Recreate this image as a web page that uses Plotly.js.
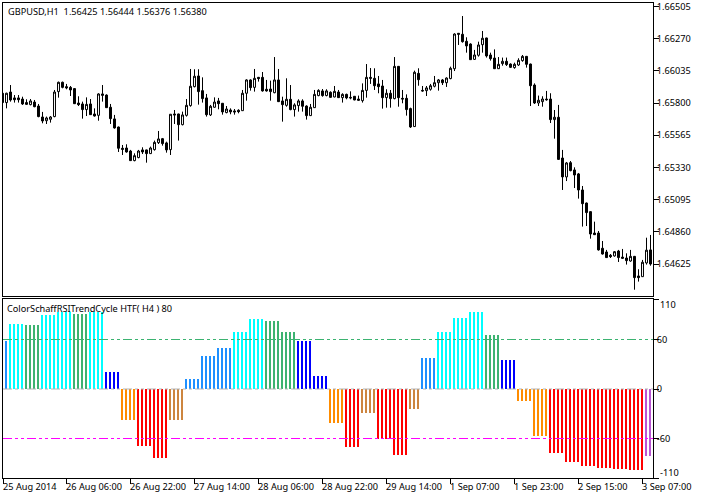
<!DOCTYPE html>
<html>
<head>
<meta charset="utf-8">
<script src="https://cdn.plot.ly/plotly-3.0.1.min.js"></script>
<style>
html, body { margin: 0; padding: 0; background: #fff; }
#chart_container { width: 705px; height: 498px; }
</style>
</head>
<body>
<div id="chart_container"></div>
<script>
// GBPUSD H1 candles (first one is cut by the left edge)
var candleOpen = [
	1.65871,1.65803,1.65880,1.65837,1.65837,1.65829,1.65803,1.65788,1.65807,1.65778,
	1.65698,1.65671,1.65681,1.65701,1.65883,1.65951,1.65919,1.65914,1.65905,1.65800,
	1.65793,1.65752,1.65793,1.65720,1.65710,1.65866,1.65858,1.65769,1.65684,1.65625,
	1.65470,1.65472,1.65450,1.65380,1.65402,1.65458,1.65458,1.65431,1.65460,1.65511,
	1.65540,1.65509,1.65460,1.65720,1.65720,1.65642,1.65710,1.65781,1.65919,1.65997,
	1.65890,1.65837,1.65713,1.65769,1.65815,1.65798,1.65730,1.65749,1.65742,1.65747,
	1.65744,1.65871,1.65968,1.65914,1.65987,1.65987,1.65900,1.65902,1.65875,1.65968,
	1.65815,1.65783,1.65827,1.65752,1.65781,1.65815,1.65778,1.65708,1.65766,1.65854,
	1.65888,1.65854,1.65878,1.65844,1.65880,1.65839,1.65863,1.65841,1.65849,1.65829,
	1.65817,1.65892,1.65987,1.65980,1.65939,1.65924,1.65839,1.65871,1.65832,1.66067,
	1.65834,1.65834,1.65759,1.65628,1.66016,1.65892,1.65890,1.65900,1.65922,1.65948,
	1.65968,1.65948,1.65978,1.66050,1.66308,1.66301,1.66250,1.66230,1.66118,1.66148,
	1.66225,1.66274,1.66150,1.66128,1.66050,1.66087,1.66104,1.66084,1.66058,1.66077,
	1.66109,1.66140,1.66084,1.65931,1.65800,1.65810,1.65829,1.65829,1.65679,1.65696,
	1.65399,1.65261,1.65365,1.65312,1.65283,1.65166,1.65071,1.65008,1.64852,1.64852,
	1.64741,1.64714,1.64690,1.64685,1.64721,1.64677,1.64670,1.64648,1.64682,1.64539,
	1.64534,1.64634,1.64729
];
var candleHigh = [
	1.65875,1.65875,1.65931,1.65858,1.65858,1.65846,1.65827,1.65829,1.65822,1.65793,
	1.65735,1.65701,1.65705,1.65895,1.65956,1.65956,1.65939,1.65924,1.65907,1.65849,
	1.65810,1.65841,1.65829,1.65761,1.65871,1.65931,1.65863,1.65793,1.65713,1.65628,
	1.65494,1.65499,1.65458,1.65433,1.65458,1.65477,1.65460,1.65482,1.65526,1.65596,
	1.65545,1.65518,1.65720,1.65749,1.65722,1.65737,1.65829,1.66048,1.66046,1.66046,
	1.65987,1.65866,1.65786,1.65841,1.65837,1.65800,1.65778,1.65761,1.65756,1.65754,
	1.65895,1.65973,1.65973,1.66048,1.65990,1.66026,1.65968,1.65963,1.66135,1.66048,
	1.65846,1.65980,1.65931,1.65798,1.65827,1.65827,1.65783,1.65793,1.65895,1.65900,
	1.65902,1.65900,1.65885,1.65924,1.65895,1.65871,1.65868,1.65885,1.65851,1.65854,
	1.65943,1.66084,1.66055,1.66053,1.65997,1.65968,1.65900,1.65895,1.66135,1.66070,
	1.65895,1.65863,1.65766,1.66036,1.66053,1.65924,1.65924,1.65939,1.65997,1.65975,
	1.65975,1.65987,1.66065,1.66308,1.66308,1.66434,1.66279,1.66235,1.66187,1.66247,
	1.66325,1.66276,1.66167,1.66191,1.66135,1.66131,1.66131,1.66089,1.66094,1.66126,
	1.66150,1.66143,1.66087,1.65943,1.65854,1.65849,1.65888,1.65871,1.65749,1.65786,
	1.65458,1.65370,1.65377,1.65331,1.65290,1.65195,1.65074,1.65010,1.64935,1.64867,
	1.64794,1.64729,1.64699,1.64721,1.64729,1.64736,1.64704,1.64729,1.64685,1.64588,
	1.64656,1.64818,1.64838
];
var candleLow = [
	1.65803,1.65761,1.65810,1.65803,1.65803,1.65786,1.65786,1.65783,1.65769,1.65696,
	1.65652,1.65647,1.65657,1.65696,1.65839,1.65907,1.65900,1.65851,1.65793,1.65778,
	1.65686,1.65705,1.65713,1.65701,1.65671,1.65810,1.65764,1.65647,1.65613,1.65443,
	1.65421,1.65438,1.65377,1.65375,1.65397,1.65428,1.65365,1.65428,1.65453,1.65501,
	1.65489,1.65438,1.65421,1.65647,1.65526,1.65637,1.65701,1.65773,1.65914,1.65788,
	1.65803,1.65701,1.65705,1.65766,1.65754,1.65715,1.65725,1.65718,1.65715,1.65725,
	1.65742,1.65817,1.65890,1.65883,1.65956,1.65883,1.65883,1.65817,1.65871,1.65807,
	1.65664,1.65773,1.65747,1.65701,1.65737,1.65737,1.65679,1.65705,1.65764,1.65849,
	1.65846,1.65849,1.65839,1.65841,1.65837,1.65803,1.65827,1.65827,1.65820,1.65817,
	1.65803,1.65839,1.65939,1.65895,1.65871,1.65759,1.65766,1.65766,1.65827,1.65773,
	1.65798,1.65708,1.65618,1.65625,1.65926,1.65883,1.65851,1.65890,1.65914,1.65890,
	1.65931,1.65917,1.65973,1.66033,1.66223,1.66240,1.66167,1.66114,1.66114,1.66138,
	1.66167,1.66131,1.66109,1.66048,1.66048,1.66072,1.66070,1.66055,1.66050,1.66070,
	1.66101,1.66058,1.65778,1.65793,1.65778,1.65773,1.65817,1.65654,1.65540,1.65385,
	1.65166,1.65231,1.65302,1.65180,1.65103,1.64899,1.64903,1.64811,1.64838,1.64724,
	1.64695,1.64670,1.64670,1.64680,1.64641,1.64663,1.64622,1.64643,1.64439,1.64498,
	1.64532,1.64622,1.64614
];
var candleClose = [
	1.65803,1.65871,1.65822,1.65824,1.65824,1.65793,1.65790,1.65815,1.65773,1.65701,
	1.65669,1.65691,1.65698,1.65880,1.65951,1.65914,1.65910,1.65895,1.65795,1.65788,
	1.65752,1.65790,1.65715,1.65705,1.65866,1.65856,1.65766,1.65686,1.65618,1.65470,
	1.65462,1.65443,1.65380,1.65416,1.65450,1.65443,1.65431,1.65472,1.65513,1.65538,
	1.65504,1.65458,1.65718,1.65713,1.65642,1.65713,1.65783,1.65922,1.65995,1.65883,
	1.65832,1.65715,1.65776,1.65807,1.65795,1.65735,1.65756,1.65735,1.65735,1.65737,
	1.65871,1.65968,1.65912,1.65980,1.65978,1.65888,1.65888,1.65883,1.65968,1.65810,
	1.65788,1.65827,1.65752,1.65786,1.65815,1.65776,1.65708,1.65769,1.65863,1.65892,
	1.65854,1.65888,1.65841,1.65885,1.65839,1.65863,1.65837,1.65837,1.65822,1.65820,
	1.65892,1.65987,1.65980,1.65926,1.65919,1.65839,1.65871,1.65832,1.66067,1.65839,
	1.65829,1.65752,1.65625,1.66024,1.65970,1.65888,1.65910,1.65926,1.65948,1.65968,
	1.65948,1.65982,1.66053,1.66303,1.66301,1.66247,1.66216,1.66116,1.66150,1.66223,
	1.66272,1.66143,1.66123,1.66050,1.66082,1.66104,1.66080,1.66060,1.66082,1.66111,
	1.66140,1.66082,1.65926,1.65800,1.65820,1.65829,1.65824,1.65679,1.65696,1.65389,
	1.65261,1.65363,1.65307,1.65275,1.65166,1.65066,1.65001,1.64845,1.64840,1.64729,
	1.64699,1.64673,1.64680,1.64716,1.64673,1.64668,1.64651,1.64682,1.64527,1.64527,
	1.64639,1.64727,1.64626
];

// ColorSchaffRSITrendCycle HTF histogram, starts at the second candle
var histValue = [
	57.6,78.2,78.2,78.2,78.2,77,77,77,77,89.2,
	89.2,89.2,89.2,92.8,92.8,92.8,92.8,90.4,90.4,90.4,
	90.4,92.8,92.8,92.8,92.8,21,21,21,21,-38.1,
	-38.1,-38.1,-38.1,-68.9,-68.9,-68.9,-68.9,-83.5,-83.5,-83.5,
	-83.5,-37.3,-37.3,-37.3,-37.3,12.6,12.6,12.6,12.6,40.5,
	40.5,40.5,40.5,50.3,50.3,50.3,50.3,69.7,69.7,69.7,
	69.7,84.3,84.3,84.3,84.3,81.9,81.9,81.9,81.9,69.7,
	69.7,69.7,69.7,57.6,57.6,57.6,57.6,16.2,16.2,16.2,
	16.2,-40.9,-40.9,-40.9,-40.9,-70.1,-70.1,-70.1,-70.1,-28.8,
	-28.8,-28.8,-28.8,-60,-60,-60,-60,-79.9,-79.9,-79.9,
	-79.9,-23.9,-23.9,-23.9,38.1,38.1,38.1,38.1,69.7,69.7,
	69.7,69.7,85.5,85.5,85.5,85.5,92.8,92.8,92.8,92.8,
	64.9,64.9,64.9,64.9,35.7,35.7,35.7,35.7,-14.2,-14.2,
	-14.2,-14.2,-56.8,-56.8,-56.8,-56.8,-77.4,-77.4,-77.4,-77.4,
	-88.4,-88.4,-88.4,-88.4,-93.2,-93.2,-93.2,-93.2,-95.7,-95.7,
	-95.7,-95.7,-96.9,-96.9,-96.9,-96.9,-98.1,-98.1,-98.1,-98.1,
	-81.1,-81.1
];
// colour state of each histogram bar
var histState = (
	"d cccc gggg cccc cccc gggg cccc bbbb oooo rrrr rrrr pppp dddd dddd dddd cccc " +
	"cccc gggg gggg bbbb bbbb oooo rrrr pppp rrrr rrrr ppp dddd cccc cccc cccc " +
	"gggg bbbb oooo oooo rrrr rrrr rrrr rrrr rrrr rrrr mm"
).replace(/ /g, "").split("");

var histPalette = {
	c: "#00FFFF", d: "#1E90FF", g: "#3CB371", b: "#0000FF",
	o: "#FF8C00", r: "#FF0000", p: "#CD853F", m: "#BA55D3"
};

var timeTickText = ["25 Aug 2014", "26 Aug 06:00", "26 Aug 22:00", "27 Aug 14:00", "28 Aug 06:00",
	"28 Aug 22:00", "29 Aug 14:00", "1 Sep 07:00", "1 Sep 23:00", "2 Sep 15:00", "3 Sep 07:00"];
var timeTickIndex = [-0.75, 15, 31, 47, 63, 79, 95, 111, 127, 143, 159];
var priceTicks = [1.66505, 1.66270, 1.66035, 1.65800, 1.65565, 1.65330, 1.65095, 1.64860, 1.64625];
var histLevels = [60, 0, -60];
var levelColors = ["#3CB371", "#B4B4B4", "#FF00FF"];

// the terminal prints +-110 on the frame edges of the sub window
var histRange = [-107.88, 109.09];
var barRange = [-0.75, 161.75];

var FONT = { family: "'Noto Sans', sans-serif", size: 9.2, color: "#000" };

var candles = {
	type: "candlestick",
	// wick on a pixel column, the histogram bars sit half a pixel left of it
	x: candleOpen.map(function(v, i) { return i - 1 + 0.125; }),
	open: candleOpen,
	high: candleHigh,
	low: candleLow,
	close: candleClose,
	xaxis: "x",
	yaxis: "y",
	width: 0.5,
	whiskerwidth: 0,
	increasing: { line: { color: "#000", width: 1 }, fillcolor: "#fff" },
	decreasing: { line: { color: "#000", width: 1 }, fillcolor: "#000" },
	hoverinfo: "skip"
};

var hist = {
	type: "bar",
	x: histValue.map(function(v, i) { return i; }),
	y: histValue,
	xaxis: "x2",
	yaxis: "y2",
	width: 0.5,
	marker: {
		color: histState.map(function(s) { return histPalette[s]; }),
		line: { width: 0 }
	},
	hoverinfo: "skip"
};

var levelShapes = histLevels.map(function(v, i) {
	return {
		type: "line", xref: "x2", yref: "y2", layer: "above",
		x0: barRange[0], x1: barRange[1], y0: v, y1: v,
		line: { color: levelColors[i], width: 1, dash: "9px,3px,3px,3px,3px,3px" }
	};
});

var frame = { showline: true, linecolor: "#000", linewidth: 1, mirror: true, showgrid: false, zeroline: false };

var layout = {
	width: 705,
	height: 498,
	margin: { l: 3, r: 52, t: 3, b: 20, pad: 0 },
	paper_bgcolor: "#fff",
	plot_bgcolor: "#fff",
	font: FONT,
	showlegend: false,
	bargap: 0,
	xaxis: Object.assign({}, frame, {
		anchor: "y", range: barRange, showticklabels: false, ticks: "",
		rangeslider: { visible: false }
	}),
	xaxis2: Object.assign({}, frame, {
		anchor: "y2", range: barRange, matches: "x",
		tickmode: "array", tickvals: timeTickIndex, ticktext: timeTickText,
		ticks: "outside", ticklen: 5, tickwidth: 1, tickcolor: "#000",
		ticklabelposition: "outside right", ticklabelshift: -1, tickangle: 0, tickfont: FONT
	}),
	yaxis: Object.assign({}, frame, {
		domain: [0.38316, 1], side: "right", range: [1.64393, 1.66529],
		tickmode: "array", tickvals: priceTicks, tickformat: ".5f", ticklabeloverflow: "allow",
		ticklabelstandoff: -4,
		ticks: "outside", ticklen: 5, tickwidth: 1, tickcolor: "#000", tickfont: FONT
	}),
	yaxis2: Object.assign({}, frame, {
		domain: [0, 0.37684], side: "right", range: histRange,
		tickmode: "array", tickvals: [histRange[1], 60, 0, -60, histRange[0]], ticktext: ["", "60", "0", "-60", ""],
		ticklabeloverflow: "allow", ticklabelstandoff: -4,
		ticks: "outside", ticklen: 5, tickwidth: 1, tickcolor: "#000", tickfont: FONT
	}),
	shapes: levelShapes,
	annotations: [
		{ xref: "paper", yref: "paper", x: 0.00615, y: 1.0, yshift: -1, xanchor: "left", yanchor: "top", showarrow: false, borderpad: 0,
			text: "GBPUSD,H1\u00A0\u00A01.56425\u00A01.56444\u00A01.56376\u00A01.56380", font: FONT },
		{ xref: "paper", yref: "paper", x: 0.0046, y: 0.37684, yshift: -2, xanchor: "left", yanchor: "top", showarrow: false, borderpad: 0,
			text: "ColorSchaffRSITrendCycle HTF(\u00A0H4\u00A0)\u00A080", font: FONT },
		{ xref: "paper", yref: "y2", x: 1.0085, y: histRange[1], yshift: -5, xanchor: "left", yanchor: "middle", showarrow: false, borderpad: 0,
			text: "110", font: FONT },
		{ xref: "paper", yref: "y2", x: 1.0085, y: histRange[0], yshift: 6, xanchor: "left", yanchor: "middle", showarrow: false, borderpad: 0,
			text: "-110", font: FONT }
	]
};

Plotly.newPlot("chart_container", [candles, hist], layout, { displayModeBar: false, staticPlot: true });
</script>
</body>
</html>
